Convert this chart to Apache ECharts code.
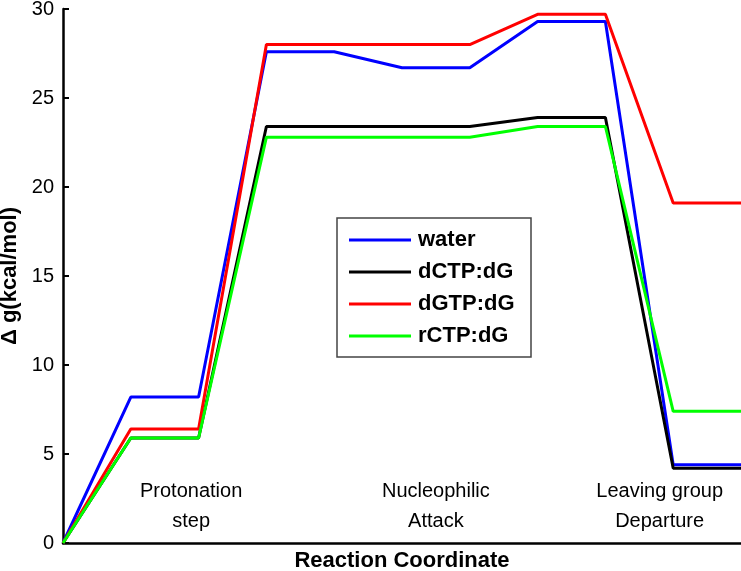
<!DOCTYPE html>
<html>
<head>
<meta charset="utf-8">
<script src="https://cdn.jsdelivr.net/npm/echarts@6/dist/echarts.min.js"></script>
<style>
html,body{margin:0;padding:0;background:#fff;}
#chart{width:741px;height:571px;}
</style>
</head>
<body>
<div id="chart"></div>
<script>
// Reaction coordinate steps
var steps = [0, 1, 2, 3, 4, 5, 6, 7, 8, 9, 10];
var seriesNames = ['water', 'dCTP:dG', 'dGTP:dG', 'rCTP:dG'];
var water = [0, 8.2, 8.2, 27.6, 27.6, 26.7, 26.7, 29.3, 29.3, 4.4, 4.4];
var dCTP  = [0, 5.9, 5.9, 23.4, 23.4, 23.4, 23.4, 23.9, 23.9, 4.2, 4.2];
var dGTP  = [0, 6.4, 6.4, 28.0, 28.0, 28.0, 28.0, 29.7, 29.7, 19.1, 19.1];
var rCTP  = [0, 5.9, 5.9, 22.8, 22.8, 22.8, 22.8, 23.4, 23.4, 7.4, 7.4];
var yTicks = [0, 5, 10, 15, 20, 25, 30];
var stageLabels = ['Protonation\nstep', 'Nucleophilic\nAttack', 'Leaving group\nDeparture'];
var stageX = [1.89, 5.5, 8.8];
var stageY = [2.05, 2.05, 2.05];

var colors = ['#0000ff', '#000000', '#ff0000', '#00ff00'];
var allData = [water, dCTP, dGTP, rCTP];
var FONT = 'Liberation Sans, Arial, Helvetica, sans-serif';

function pairs(arr) { return steps.map(function (x, i) { return [x, arr[i]]; }); }

var series = seriesNames.map(function (n, k) {
  return {
    name: n, type: 'line', data: pairs(allData[k]),
    showSymbol: false, symbol: 'none',
    lineStyle: { color: colors[k], width: 3 },
    itemStyle: { color: colors[k] },
    animation: false
  };
});
series.push({
  type: 'scatter', symbolSize: 0, silent: true, animation: false,
  itemStyle: { opacity: 1, color: '#000' },
  data: stageX.map(function (x, i) { return { value: [x, stageY[i]], name: stageLabels[i] }; }),
  label: {
    show: true, position: 'inside', formatter: function (p) { return p.name; },
    fontFamily: FONT, fontSize: 20, color: '#000', opacity: 1, textBorderWidth: 0,
    lineHeight: 30, align: 'center', verticalAlign: 'middle'
  }
});

var chart = echarts.init(document.getElementById('chart'), null, { renderer: 'canvas' });
chart.setOption({
  backgroundColor: '#fff',
  animation: false,
  grid: { left: 63, right: 0, top: 9, bottom: 28, containLabel: false, outerBoundsMode: 'none' },
  xAxis: {
    type: 'value', min: 0, max: 10,
    name: 'Reaction Coordinate', nameLocation: 'middle', nameGap: 7,
    nameTextStyle: { fontFamily: FONT, fontSize: 22, fontWeight: 'bold', color: '#000' },
    axisLine: { show: true, lineStyle: { color: '#000', width: 2.5 } },
    axisTick: { show: false }, axisLabel: { show: false }, splitLine: { show: false }
  },
  yAxis: {
    type: 'value', min: yTicks[0], max: yTicks[yTicks.length - 1], interval: yTicks[1] - yTicks[0],
    name: 'Δ g(kcal/mol)', nameLocation: 'middle', nameGap: 42, nameRotate: 90,
    nameTextStyle: { fontFamily: FONT, fontSize: 22, fontWeight: 'bold', color: '#000' },
    axisLine: { show: true, lineStyle: { color: '#000', width: 2.5 } },
    axisTick: { show: true, inside: true, length: 6, lineStyle: { color: '#000', width: 2 } },
    axisLabel: { fontFamily: FONT, fontSize: 20, color: '#000', margin: 9 },
    splitLine: { show: false }
  },
  legend: {
    data: seriesNames, orient: 'vertical', left: 337, top: 218,
    padding: [11, 13, 10, 12], itemGap: 10, itemWidth: 62, itemHeight: 3,
    icon: 'rect', borderColor: '#444', borderWidth: 1.5, backgroundColor: '#fff',
    textStyle: { fontFamily: FONT, fontSize: 22, fontWeight: 'bold', color: '#000', lineHeight: 21, width: 100, padding: [0, 0, 0, 2] },
    selectedMode: false
  },
  series: series
});
</script>
</body>
</html>
